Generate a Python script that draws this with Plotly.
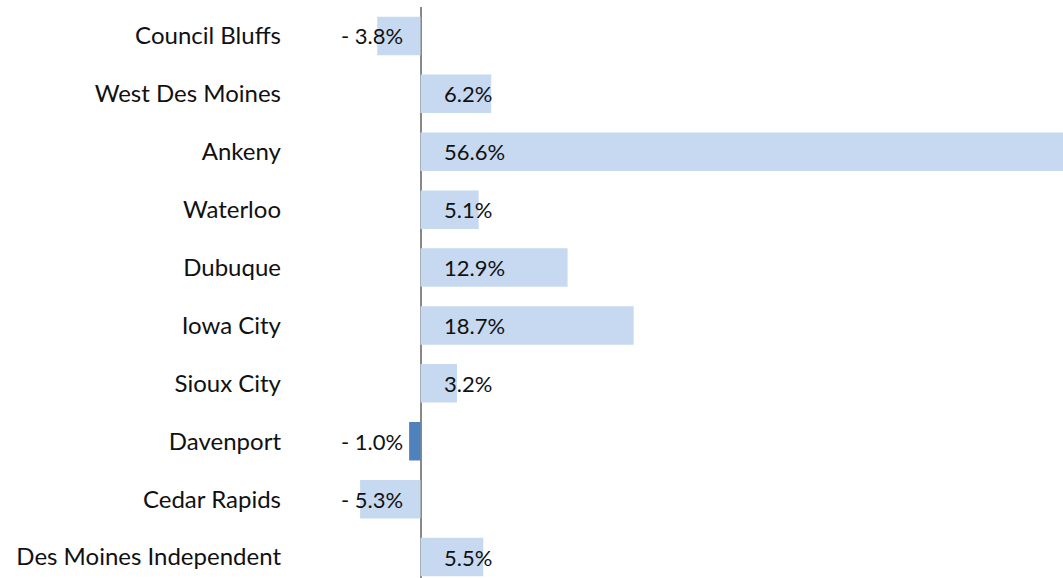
import plotly.graph_objects as go

categories = ["Council Bluffs", "West Des Moines", "Ankeny", "Waterloo", "Dubuque",
              "Iowa City", "Sioux City", "Davenport", "Cedar Rapids", "Des Moines Independent"]
values = [-3.8, 6.2, 56.6, 5.1, 12.9, 18.7, 3.2, -1.0, -5.3, 5.5]
labels = ["- 3.8%", "6.2%", "56.6%", "5.1%", "12.9%", "18.7%", "3.2%", "- 1.0%", "- 5.3%", "5.5%"]
highlight = "Davenport"

LIGHT = "#C6D9F0"
DARK = "#4F81BD"
FONT = "Lato"

ypos = list(range(len(categories)))
colors = [DARK if c == highlight else LIGHT for c in categories]

fig = go.Figure()
fig.add_trace(go.Bar(
    x=values, y=ypos, orientation="h",
    marker=dict(color=colors, line=dict(width=0)),
    width=0.665, hoverinfo="skip",
))

annotations = []
for v, yv, t in zip(values, ypos, labels):
    if v >= 0:
        annotations.append(dict(x=0, y=yv, xref="x", yref="y", text=t, showarrow=False,
                                xanchor="left", xshift=21,
                                font=dict(family=FONT, size=22, color="#111")))
    else:
        annotations.append(dict(x=0, y=yv, xref="x", yref="y", text=t, showarrow=False,
                                xanchor="right", xshift=-16,
                                font=dict(family=FONT, size=22, color="#111")))

fig.update_layout(
    width=1063, height=578,
    margin=dict(l=290, r=0, t=7, b=0),
    paper_bgcolor="white", plot_bgcolor="white",
    showlegend=False,
    annotations=annotations,
    xaxis=dict(range=[-11.45, 56.36], showgrid=False, showticklabels=False, ticks="",
               zeroline=True, zerolinecolor="#888888", zerolinewidth=2, showline=False),
    yaxis=dict(range=[9.362, -0.5], tickvals=ypos, ticktext=categories, showgrid=False,
               zeroline=False, showline=False, ticks="", ticklabelstandoff=8,
               tickfont=dict(family=FONT, size=24, color="#111")),
)

fig.write_html("out.html", config={"displayModeBar": False},
               post_script="document.body.style.margin='0';document.body.style.overflow='hidden';")
